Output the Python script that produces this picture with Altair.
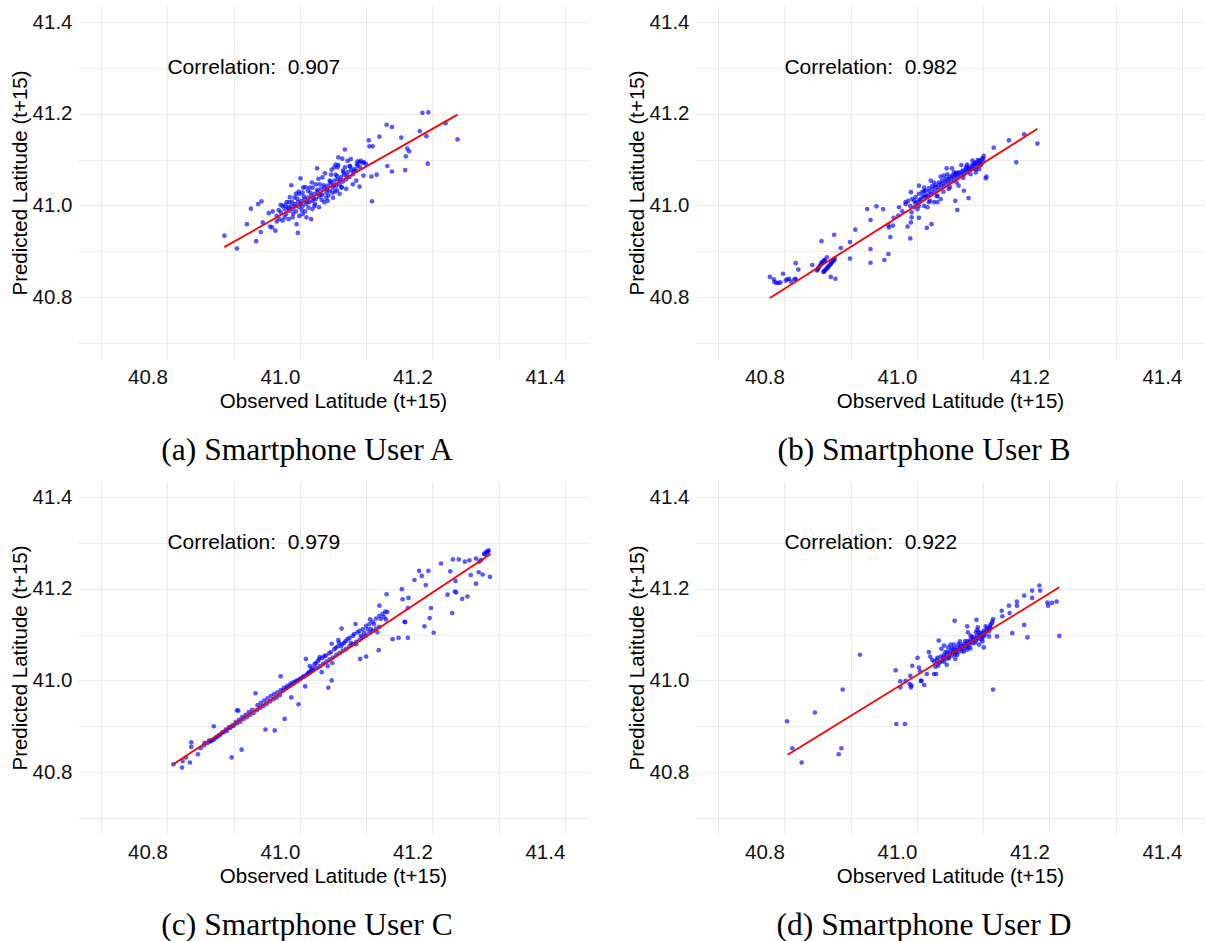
import altair as alt
import pandas as pd

# ---------------- Panel A (Smartphone User A) ----------------
a_obs = [40.886, 40.905, 40.920, 40.926, 40.934, 40.937, 40.942, 40.941, 40.944, 40.953,
         40.955, 40.958, 40.959, 40.963, 40.965, 40.971, 40.974, 40.987, 40.995, 40.997,
         41.001, 41.017, 41.026, 41.068, 41.058, 41.064, 41.052, 41.054, 41.104, 41.105,
         41.110, 41.120, 41.131, 41.139, 41.153, 41.160, 41.162, 41.165, 41.132, 41.139,
         41.159, 41.181, 41.185, 41.194, 41.191, 41.193, 41.220, 41.238, 41.109, 41.108,
         41.116, 41.090, 41.096,
         40.971, 40.977, 40.979, 40.982, 40.984, 40.987, 40.989, 40.992, 40.994, 40.997,
         40.999, 41.002, 41.004, 41.007, 41.009, 41.012, 41.014, 41.017, 41.019, 41.022,
         41.024, 41.027, 41.029, 41.032, 41.034, 41.037, 41.040, 41.042, 41.045, 41.047,
         41.050, 41.052, 41.055, 41.057, 41.060, 41.062, 41.065, 41.067, 41.070, 41.072,
         41.075, 41.077, 41.080, 41.082, 41.085, 41.087, 41.090, 41.092, 41.095, 41.097,
         41.100,
         40.980, 40.983, 40.989, 40.994, 40.999, 41.004, 41.008, 41.014, 41.019, 41.024,
         41.029, 41.034, 41.042, 41.047, 41.050, 41.057, 41.060, 41.065, 41.070, 41.075,
         41.080, 41.085, 41.072, 41.077, 41.087, 41.019, 41.012, 40.999, 40.992, 40.984,
         40.977, 40.969, 40.974, 40.965, 40.968, 41.004, 41.010, 41.022, 41.037, 41.030,
         41.045, 41.054, 41.063, 41.068, 41.040, 41.049, 41.056, 41.005,
         40.978, 40.983, 40.988, 40.993, 40.996, 41.001, 41.006, 41.011, 41.016, 41.021,
         41.026, 41.031, 41.036, 41.041, 41.046, 41.051, 41.056, 41.061, 41.066, 41.071,
         41.076, 41.081, 41.086, 41.091, 40.990, 41.003, 41.013, 41.023, 41.033, 41.043,
         41.053, 41.063, 40.985, 40.998, 41.008, 41.018, 41.028, 41.038, 41.048, 41.058]
a_pred = [40.934, 40.906, 40.959, 40.993, 40.922, 41.003, 41.009, 40.942, 40.963, 40.983,
          40.954, 40.952, 40.987, 40.945, 40.965, 41.001, 40.967, 41.044, 40.959, 40.940,
          41.059, 40.970, 41.081, 41.122, 41.105, 41.102, 41.083, 41.089, 41.142, 41.129,
          41.129, 41.150, 41.176, 41.171, 41.148, 41.107, 41.124, 41.118, 41.086, 41.074,
          41.077, 41.162, 41.202, 41.203, 41.151, 41.091, 41.179, 41.144, 41.009, 41.063,
          41.067, 41.041, 41.065,
          40.985, 40.992, 40.981, 40.996, 40.988, 40.999, 40.992, 41.003, 40.987, 41.007,
          40.996, 41.010, 40.999, 41.014, 41.003, 41.017, 41.007, 41.021, 41.010, 41.025,
          41.014, 41.030, 41.019, 41.036, 41.023, 41.039, 41.028, 41.043, 41.032, 41.048,
          41.039, 41.054, 41.043, 41.057, 41.046, 41.062, 41.052, 41.067, 41.057, 41.072,
          41.062, 41.077, 41.068, 41.079, 41.076, 41.096, 41.094, 41.097, 41.093, 41.094,
          41.090,
          41.007, 40.970, 40.974, 41.025, 40.977, 41.028, 40.987, 41.039, 40.992, 41.046,
          40.996, 41.061, 41.010, 41.067, 41.017, 41.083, 41.025, 41.076, 41.036, 41.086,
          41.046, 41.054, 41.097, 41.101, 41.086, 41.039, 41.032, 41.025, 41.017, 41.007,
          40.974, 40.970, 40.999, 40.977, 40.990, 40.981, 40.974, 40.999, 41.007, 41.046,
          41.054, 41.067, 41.039, 41.083, 41.017, 41.028, 41.033, 41.039,
          41.000, 40.993, 41.008, 40.998, 41.015, 41.004, 41.020, 41.008, 41.028, 41.015,
          41.034, 41.024, 41.044, 41.035, 41.052, 41.044, 41.064, 41.055, 41.072, 41.064,
          41.085, 41.074, 41.090, 41.083, 40.982, 40.990, 40.995, 41.003, 41.012, 41.022,
          41.030, 41.040, 41.018, 41.030, 41.040, 41.050, 41.058, 41.070, 41.078, 41.088]
a_line_obs = [40.886, 41.238]
a_line_pred = [40.909, 41.198]

# ---------------- Panel B (Smartphone User B) ----------------
b_obs = [40.778, 40.784, 40.785, 40.788, 40.791, 40.794, 40.798, 40.802, 40.804, 40.807,
         40.810, 40.815, 40.817, 40.821, 40.817,
         40.849, 40.851, 40.854, 40.856, 40.859, 40.861, 40.850, 40.852, 40.855, 40.857, 40.860,
         40.859, 40.861, 40.864, 40.866, 40.869, 40.871, 40.874, 40.876,
         40.860, 40.862, 40.865, 40.867, 40.870, 40.872, 40.875,
         40.842, 40.864, 40.870, 40.877, 40.856, 40.875, 40.885, 40.899, 40.899, 40.907,
         40.925, 40.939, 40.949, 40.930, 40.930, 40.930, 40.951, 40.957, 40.960, 40.958,
         40.957, 40.965, 40.964, 40.973, 40.972, 40.978, 40.986, 40.990, 40.991, 40.992,
         40.992, 40.996, 40.983, 41.003, 41.015, 41.022, 41.003, 41.011, 41.031, 41.036,
         41.045, 41.053, 41.059, 41.061, 41.058, 41.071, 41.078, 41.067, 41.075, 41.076,
         41.084, 41.089, 41.095, 41.101, 41.105, 41.104, 41.116, 41.139, 41.150, 41.162,
         41.182,
         40.983, 40.987, 40.990, 40.993, 40.996, 40.998, 41.001, 41.003, 41.006, 41.008,
         41.011, 41.013, 41.016, 41.018, 41.021, 41.023, 41.026, 41.028, 41.031, 41.033,
         41.036, 41.038, 41.041, 41.043, 41.046, 41.048, 41.051, 41.053, 41.056, 41.058,
         41.061, 41.063, 41.066, 41.069, 41.071, 41.074, 41.076, 41.079, 41.081, 41.084,
         41.086, 41.089, 41.091, 41.094, 41.096, 41.099, 41.100,
         40.991, 41.001, 41.011, 41.018, 41.026, 41.036, 41.041, 41.048, 41.056, 41.063,
         41.081, 41.089, 41.094, 41.021, 41.031, 41.046, 41.011, 41.003, 41.016, 41.026,
         40.998, 41.004, 41.009, 41.014, 41.019, 41.024, 41.029, 41.034, 41.039, 41.044,
         41.049, 41.054, 41.059, 41.064, 41.069, 41.074, 41.079, 41.084, 41.089, 41.094,
         41.099, 41.097, 41.092, 41.087, 41.020, 41.030, 41.040, 41.050, 41.060, 41.070]
b_pred = [40.844, 40.839, 40.833, 40.831, 40.831, 40.832, 40.851, 40.836, 40.839, 40.840,
          40.834, 40.839, 40.874, 40.860, 40.840,
          40.858, 40.863, 40.869, 40.874, 40.878, 40.881, 40.860, 40.865, 40.871, 40.876, 40.880,
          40.855, 40.858, 40.862, 40.866, 40.870, 40.875, 40.879, 40.884,
          40.856, 40.860, 40.864, 40.868, 40.873, 40.877, 40.881,
          40.870, 40.887, 40.844, 40.840, 40.922, 40.936, 40.907, 40.884, 40.920, 40.947,
          40.992, 40.998, 40.992, 40.968, 40.905, 40.875, 40.881, 40.894, 40.931, 40.952,
          40.957, 40.973, 40.956, 40.996, 40.978, 40.987, 40.954, 40.928, 40.963, 40.974,
          40.985, 41.010, 41.007, 40.973, 40.951, 40.959, 41.043, 41.031, 41.007, 41.063,
          41.081, 41.081, 41.071, 40.990, 41.010, 41.032, 41.016, 41.088, 41.085, 41.089,
          41.098, 41.072, 41.097, 41.108, 41.063, 41.059, 41.126, 41.142, 41.094, 41.155,
          41.135,
          41.003, 41.010, 40.999, 41.014, 40.996, 41.018, 41.007, 41.025, 41.013, 41.029,
          41.018, 41.032, 41.021, 41.037, 41.025, 41.042, 41.029, 41.044, 41.034, 41.050,
          41.039, 41.054, 41.043, 41.058, 41.049, 41.061, 41.052, 41.065, 41.056, 41.068,
          41.061, 41.072, 41.065, 41.076, 41.068, 41.081, 41.073, 41.083, 41.078, 41.086,
          41.081, 41.090, 41.085, 41.092, 41.088, 41.094, 41.101,
          41.029, 40.992, 40.999, 41.007, 41.050, 41.014, 41.065, 41.036, 41.072, 41.043,
          41.068, 41.079, 41.079, 41.054, 41.021, 41.068, 41.039, 40.999, 40.996, 41.007,
          41.005, 41.012, 41.020, 41.022, 41.030, 41.036, 41.040, 41.045, 41.048, 41.053,
          41.058, 41.062, 41.066, 41.070, 41.073, 41.077, 41.080, 41.089, 41.094, 41.098,
          41.103, 41.090, 41.099, 41.092, 41.010, 41.020, 41.030, 41.040, 41.050, 41.060]
b_line_obs = [40.778, 41.182]
b_line_pred = [40.798, 41.167]

# ---------------- Panel C (Smartphone User C) ----------------
c_obs = [40.809, 40.822, 40.823, 40.828, 40.834, 40.836, 40.836, 40.846, 40.856, 40.863,
         40.865, 40.868, 40.870, 40.873, 40.878, 40.883, 40.888, 40.893, 40.897, 40.898,
         40.905, 40.907, 40.903, 40.908, 40.912, 40.913, 40.918, 40.923, 40.928, 40.933,
         40.936, 40.941, 40.946, 40.948, 40.951, 40.956, 40.962, 40.961, 40.966, 40.971,
         40.971, 40.976, 40.977, 40.981, 40.986, 40.987, 40.991, 40.996, 40.998, 41.001,
         41.006, 41.008, 41.009, 41.012, 41.014, 41.015, 41.017, 41.019, 41.022, 41.024,
         41.027, 41.029, 41.030, 41.033, 41.034, 41.037, 41.039, 41.043, 41.042, 41.044,
         41.047, 41.048, 41.048, 41.049, 41.052, 41.054, 41.057, 41.059, 41.058, 41.063,
         41.062, 41.064, 41.067, 41.069, 41.072, 41.075, 41.077, 41.080, 41.082, 41.084,
         41.085, 41.087, 41.090, 41.091, 41.092, 41.095, 41.097, 41.100, 41.100, 41.102,
         41.105, 41.106, 41.107, 41.110, 41.112, 41.115, 41.117, 41.119, 41.120, 41.120,
         41.122, 41.125, 41.127, 41.129, 41.130, 41.131, 41.132, 41.140, 41.149, 41.154,
         41.155, 41.158, 41.159, 41.163, 41.163, 41.164, 41.173, 41.180, 41.184, 41.188,
         41.190, 41.194, 41.198, 41.196, 41.202, 41.213, 41.223, 41.227, 41.231, 41.230,
         41.234, 41.236, 41.240, 41.245, 41.249, 41.253, 41.256, 41.258, 41.266, 41.270,
         41.271, 41.274, 41.276, 41.278, 41.281, 41.284, 41.287, 41.266, 41.235,
         40.850, 40.860, 40.870, 40.880, 40.890, 40.900, 40.910, 40.920, 40.930, 40.940,
         40.950, 40.960, 40.970, 40.980, 40.990, 41.000, 41.010, 41.020, 41.030, 41.040,
         41.050, 41.060, 41.070, 41.080, 41.090, 41.100, 41.110, 41.120,
         40.975, 40.985, 40.995, 41.005, 41.283, 41.285, 41.280,
         40.855, 40.865, 40.875, 40.885, 40.895, 40.905, 40.915, 40.925, 40.935, 40.945,
         40.955, 40.965, 41.015, 41.025, 41.035, 41.045, 41.055, 41.065, 41.075, 41.085,
         41.095, 41.105, 41.115]
c_pred = [40.817, 40.810, 40.824, 40.832, 40.821, 40.865, 40.855, 40.839, 40.864, 40.869,
          40.867, 40.870, 40.900, 40.875, 40.880, 40.887, 40.893, 40.898, 40.832, 40.902,
          40.935, 40.934, 40.909, 40.914, 40.849, 40.920, 40.925, 40.931, 40.936, 40.972,
          40.946, 40.951, 40.956, 40.893, 40.961, 40.966, 40.891, 40.970, 40.974, 41.009,
          40.979, 40.984, 40.916, 40.988, 40.993, 40.963, 40.997, 41.000, 40.948, 41.004,
          41.009, 40.987, 41.047, 41.015, 41.018, 41.031, 41.023, 41.027, 41.035, 41.038,
          41.042, 41.046, 41.051, 41.018, 41.049, 41.053, 41.054, 40.984, 41.031, 41.059,
          41.062, 41.000, 41.080, 41.038, 41.068, 41.071, 41.074, 41.082, 41.088, 41.113,
          41.075, 41.079, 41.082, 41.086, 41.090, 41.093, 41.082, 41.097, 41.101, 41.123,
          41.079, 41.105, 41.108, 41.047, 41.097, 41.112, 41.103, 41.052, 41.119, 41.112,
          41.123, 41.133, 41.112, 41.128, 41.123, 41.135, 41.105, 41.066, 41.141, 41.163,
          41.134, 41.145, 41.138, 41.150, 41.133, 41.188, 41.149, 41.090, 41.093, 41.199,
          41.177, 41.128, 41.127, 41.093, 41.158, 41.180, 41.219, 41.239, 41.228, 41.118,
          41.208, 41.239, 41.158, 41.136, 41.104, 41.255, 41.187, 41.238, 41.264, 41.147,
          41.194, 41.192, 41.264, 41.178, 41.259, 41.183, 41.262, 41.230, 41.266, 41.236,
          41.259, 41.263, 41.231, 41.276, 41.280, 41.281, 41.226, 41.211, 41.217,
          40.852, 40.863, 40.871, 40.882, 40.890, 40.901, 40.910, 40.920, 40.929, 40.940,
          40.949, 40.959, 40.968, 40.983, 40.993, 41.003, 41.012, 41.022, 41.031, 41.041,
          41.050, 41.060, 41.069, 41.079, 41.088, 41.098, 41.108, 41.117,
          40.978, 40.988, 40.998, 41.008, 41.279, 41.284, 41.275,
          40.858, 40.868, 40.877, 40.887, 40.896, 40.906, 40.916, 40.925, 40.935, 40.944,
          40.954, 40.963, 41.017, 41.027, 41.036, 41.046, 41.056, 41.065, 41.075, 41.084,
          41.094, 41.104, 41.113]
c_line_obs = [40.809, 41.288]
c_line_pred = [40.817, 41.276]

# ---------------- Panel D (Smartphone User D) ----------------
d_obs = [40.804, 40.812, 40.826, 40.846, 40.882, 40.886, 40.888, 40.914, 40.968, 40.969,
         40.982, 40.975, 40.975, 40.983, 40.990, 40.989, 40.991, 40.992, 40.993, 41.001,
         41.003, 41.005, 41.006, 41.007, 41.011, 41.015, 41.018, 41.020, 41.023, 41.026,
         41.029, 41.032, 41.033, 41.041, 41.057, 41.076, 41.077, 41.090, 41.092, 41.101,
         41.101, 41.109, 41.115, 41.121, 41.128, 41.129, 41.139, 41.140, 41.144, 41.151,
         41.151, 41.162, 41.162, 41.167, 41.174, 41.174, 41.185, 41.186, 41.197, 41.198,
         41.204, 41.211, 41.215,
         41.026, 41.028, 41.031, 41.033, 41.036, 41.038, 41.041, 41.043, 41.046, 41.048,
         41.051, 41.053, 41.056, 41.058, 41.061, 41.063, 41.066, 41.069, 41.071, 41.074,
         41.076, 41.079, 41.081, 41.084, 41.086, 41.089, 41.091, 41.094, 41.096, 41.099,
         41.101, 41.104, 41.106, 41.109, 41.111, 41.114, 41.115, 41.037, 41.045, 41.051,
         41.058, 41.065, 41.071, 41.081, 41.089, 41.094, 41.104, 41.081, 41.061, 41.047,
         41.041, 41.056, 41.076, 41.099, 41.091, 41.111,
         41.030, 41.035, 41.040, 41.045, 41.050, 41.055, 41.060, 41.065, 41.070, 41.075,
         41.080, 41.085, 41.090, 41.095, 41.100, 41.105, 41.110, 41.113, 41.043, 41.053,
         41.063, 41.073, 41.083, 41.093, 41.048, 41.058, 41.068, 41.078, 41.088, 41.098]
d_pred = [40.911, 40.852, 40.821, 40.930, 40.839, 40.852, 40.980, 41.056, 41.022, 40.905,
          40.905, 40.998, 40.985, 40.999, 41.010, 40.992, 40.985, 40.989, 41.032, 41.049,
          41.028, 41.020, 40.999, 40.999, 40.990, 41.014, 41.062, 41.052, 41.045, 41.014,
          41.014, 41.032, 41.087, 41.076, 41.130, 41.118, 41.105, 41.132, 41.116, 41.096,
          41.072, 41.096, 40.980, 41.096, 41.152, 41.140, 41.163, 41.147, 41.103, 41.172,
          41.163, 41.121, 41.185, 41.094, 41.196, 41.180, 41.207, 41.196, 41.170, 41.163,
          41.169, 41.172, 41.097,
          41.041, 41.030, 41.049, 41.038, 41.052, 41.043, 41.056, 41.047, 41.062, 41.050,
          41.065, 41.054, 41.069, 41.060, 41.072, 41.063, 41.076, 41.069, 41.079, 41.072,
          41.085, 41.078, 41.089, 41.081, 41.094, 41.087, 41.098, 41.091, 41.103, 41.096,
          41.108, 41.101, 41.114, 41.107, 41.121, 41.129, 41.134, 41.069, 41.034, 41.078,
          41.047, 41.085, 41.063, 41.070, 41.105, 41.078, 41.118, 41.098, 41.056, 41.072,
          41.041, 41.078, 41.067, 41.085, 41.110, 41.113,
          41.045, 41.040, 41.050, 41.055, 41.058, 41.062, 41.066, 41.070, 41.075, 41.080,
          41.084, 41.088, 41.092, 41.099, 41.104, 41.109, 41.116, 41.124, 41.062, 41.070,
          41.079, 41.086, 41.095, 41.106, 41.048, 41.056, 41.064, 41.072, 41.082, 41.090]
d_line_obs = [40.805, 41.215]
d_line_pred = [40.838, 41.203]

correlations = ["0.907", "0.982", "0.979", "0.922"]
captions = ["(a) Smartphone User A", "(b) Smartphone User B",
            "(c) Smartphone User C", "(d) Smartphone User D"]
grid_values = [40.7, 40.8, 40.9, 41.0, 41.1, 41.2, 41.3, 41.4]
domain = [40.665, 41.435]
label_pos = [40.8, 41.3]   # data position of the correlation annotation

LABEL_EXPR = "round(datum.value*10) % 2 == 0 ? format(datum.value, '.1f') : ''"
SANS = "Liberation Sans"


def panel(xs, ys, lx, ly, corr, caption):
    pts = pd.DataFrame({"obs": xs, "pred": ys})
    ln = pd.DataFrame({"obs": lx, "pred": ly})
    ann = pd.DataFrame({"obs": [label_pos[0]], "pred": [label_pos[1]],
                        "label": ["Correlation:\u00a0 " + corr]})
    xenc = alt.X("obs:Q", scale=alt.Scale(domain=domain, nice=False, zero=False),
                 axis=alt.Axis(title="Observed Latitude (t+15)", values=grid_values,
                               labelExpr=LABEL_EXPR, labelAlign="right",
                               labelPadding=8, titlePadding=4))
    yenc = alt.Y("pred:Q", scale=alt.Scale(domain=domain, nice=False, zero=False),
                 axis=alt.Axis(title="Predicted Latitude (t+15)", values=grid_values,
                               labelExpr=LABEL_EXPR, labelBaseline="middle",
                               labelPadding=6, titlePadding=2))
    points = alt.Chart(pts).mark_circle(color="#0000FF", opacity=0.65, size=22).encode(x=xenc, y=yenc)
    line = alt.Chart(ln).mark_line(color="#FF0000", strokeWidth=1.8).encode(x="obs:Q", y="pred:Q")
    txt = alt.Chart(ann).mark_text(align="left", baseline="middle", fontSize=21,
                                   font=SANS, color="black").encode(
        x="obs:Q", y="pred:Q", text="label:N")
    return alt.layer(points, line, txt).properties(
        width=510, height=353,
        title=alt.TitleParams(caption, orient="bottom", anchor="middle", frame="group",
                              dx=-26, offset=23, baseline="top",
                              font="Liberation Serif", fontSize=31.5,
                              fontWeight="normal", color="black"))


pA = panel(a_obs, a_pred, a_line_obs, a_line_pred, correlations[0], captions[0])
pB = panel(b_obs, b_pred, b_line_obs, b_line_pred, correlations[1], captions[1])
pC = panel(c_obs, c_pred, c_line_obs, c_line_pred, correlations[2], captions[2])
pD = panel(d_obs, d_pred, d_line_obs, d_line_pred, correlations[3], captions[3])

chart = alt.vconcat(
    alt.hconcat(pA, pB, spacing=39),
    alt.hconcat(pC, pD, spacing=39),
    spacing=14,
).properties(
    padding={"left": 10, "top": 6, "right": 0, "bottom": 0},
    background="white",
).configure_view(strokeWidth=0).configure_axis(
    domain=False, ticks=False, grid=True, gridColor="#EBEBEB", gridWidth=1,
    labelFont=SANS, labelFontSize=20.5, labelColor="#111111",
    titleFont=SANS, titleFontSize=20.5, titleFontWeight="normal", titleColor="black",
)

chart.save("out.html", embed_options={"renderer": "svg", "actions": False})
